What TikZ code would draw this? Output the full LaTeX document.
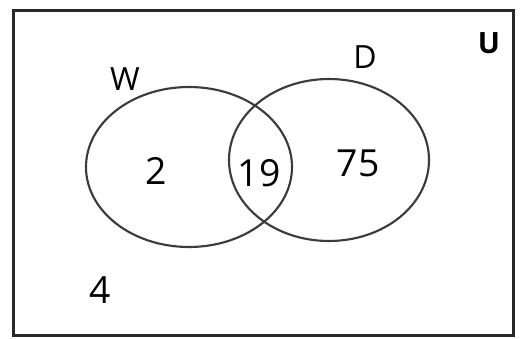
\documentclass[tikz,border=0pt]{standalone}
\usepackage{fontspec}
\setmainfont{Open Sans}

\tikzset{every picture/.style={line width=0.75pt}}
\tikzset{setlabel/.style={font=\fontsize{24}{28}\selectfont},
         numlabel/.style={font=\fontsize{28}{32}\selectfont}}

\begin{document}
\begin{tikzpicture}[x=0.75pt,y=0.75pt,yscale=-1,xscale=1]
\useasboundingbox (0,0) rectangle (522,339);

%Shape: Rectangle (universe)
\draw [line width=2.25pt, color={rgb,255:red,40;green,40;blue,40}]  (13,10) rectangle (513,335) ;
%Shape: Ellipse W
\draw [line width=1.6pt, color={rgb,255:red,60;green,60;blue,60}]  (189,167) ellipse (103 and 80) ;
%Shape: Ellipse D
\draw [line width=1.6pt, color={rgb,255:red,60;green,60;blue,60}]  (329,160) ellipse (100 and 81) ;

% Text Node
\node [setlabel] (lblW) at (125,79) {W};
% Text Node
\node [setlabel] (lblD) at (365,57) {D};
% Text Node
\node [font=\bfseries\fontsize{22}{26}\selectfont] (lblU) at (489,43) {U};
% Text Node
\node [numlabel] (onlyW) at (156,171) {2};
% Text Node
\node [numlabel] (both) at (259,173) {19};
% Text Node
\node [numlabel] (onlyD) at (358,163) {75};
% Text Node
\node [numlabel] (neither) at (100,290) {4};

\end{tikzpicture}
\end{document}
